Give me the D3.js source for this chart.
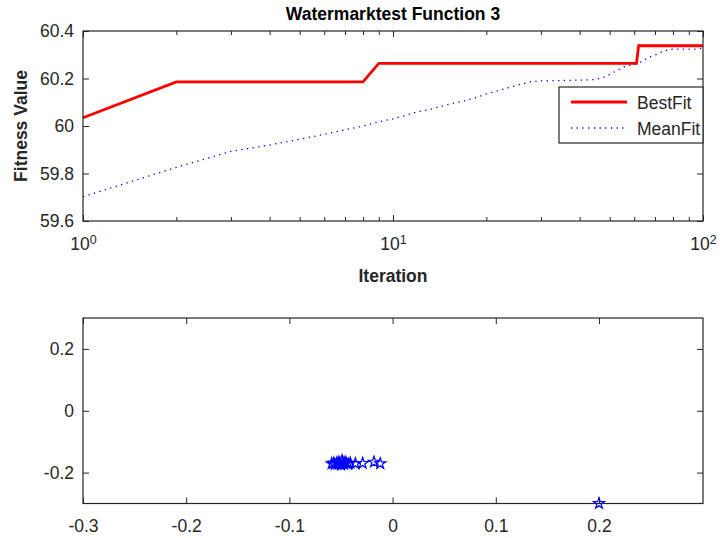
<!DOCTYPE html>
<html>
<head>
<meta charset="utf-8">
<script src="https://cdn.jsdelivr.net/npm/d3@7"></script>
<style>
  body { margin: 0; background: #fff; }
  svg { display: block; font-family: "Liberation Sans", Arial, sans-serif; }
</style>
</head>
<body>
<div id="chart"></div>
<script>
// convergence curves, one value per iteration (1..100)
const bestFit = [
  60.035,
  60.186, 60.186, 60.186, 60.186, 60.186, 60.186, 60.186,
  60.264, 60.264, 60.264, 60.264, 60.264, 60.264, 60.264, 60.264, 60.264, 60.264,
  60.264, 60.264, 60.264, 60.264, 60.264, 60.264, 60.264, 60.264, 60.264, 60.264,
  60.264, 60.264, 60.264, 60.264, 60.264, 60.264, 60.264, 60.264, 60.264, 60.264,
  60.264, 60.264, 60.264, 60.264, 60.264, 60.264, 60.264, 60.264, 60.264, 60.264,
  60.264, 60.264, 60.264, 60.264, 60.264, 60.264, 60.264, 60.264, 60.264, 60.264,
  60.264, 60.264, 60.264,
  60.338, 60.338, 60.338, 60.338, 60.338, 60.338, 60.338, 60.338, 60.338, 60.338,
  60.338, 60.338, 60.338, 60.338, 60.338, 60.338, 60.338, 60.338, 60.338, 60.338,
  60.338, 60.338, 60.338, 60.338, 60.338, 60.338, 60.338, 60.338, 60.338, 60.338,
  60.338, 60.338, 60.338, 60.338, 60.338, 60.338, 60.338, 60.338, 60.338
];
const meanFit = [
  59.702, 59.826, 59.893, 59.920, 59.944, 59.965, 59.984, 60.000, 60.018, 60.030,
  60.045, 60.060, 60.068, 60.080, 60.090, 60.098, 60.106, 60.115, 60.125, 60.135,
  60.142, 60.150, 60.157, 60.164, 60.171, 60.177, 60.182, 60.186, 60.188, 60.190,
  60.190, 60.191, 60.191, 60.191, 60.192, 60.192, 60.192, 60.193, 60.193, 60.193,
  60.193, 60.194, 60.194, 60.195, 60.197, 60.199, 60.202, 60.206, 60.211, 60.217,
  60.223, 60.229, 60.235, 60.241, 60.246, 60.250, 60.253, 60.256, 60.258, 60.260,
  60.262, 60.266, 60.270, 60.275, 60.280, 60.285, 60.289, 60.293, 60.296, 60.299,
  60.302, 60.306, 60.310, 60.313, 60.316, 60.318, 60.320, 60.322, 60.323, 60.324,
  60.324, 60.324, 60.324, 60.324, 60.324, 60.324, 60.324, 60.324, 60.324, 60.324,
  60.324, 60.324, 60.324, 60.324, 60.324, 60.324, 60.324, 60.326, 60.330, 60.335
];
const seriesNames = ['BestFit', 'MeanFit'];

// final population positions
const posX = [-0.059, -0.057, -0.056, -0.054, -0.053, -0.052, -0.051, -0.050, -0.049, -0.048,
              -0.047, -0.046, -0.045, -0.043, -0.041, -0.036, -0.029, -0.018, -0.012, 0.200];
const posY = [-0.171, -0.169, -0.174, -0.168, -0.172, -0.166, -0.170, -0.175, -0.161, -0.168,
              -0.173, -0.166, -0.170, -0.172, -0.169, -0.171, -0.170, -0.166, -0.171, -0.300];

const fitTicks = [59.6, 59.8, 60, 60.2, 60.4];
const iterTicks = [1, 10, 100];
const iterMinor = [2, 3, 4, 5, 6, 7, 8, 9, 20, 30, 40, 50, 60, 70, 80, 90];
const posXTicks = [-0.3, -0.2, -0.1, 0, 0.1, 0.2];
const posYTicks = [-0.2, 0, 0.2];

const W = 720, H = 538;
const axisColor = '#262626';
const svg = d3.select('#chart').append('svg').attr('width', W).attr('height', H);

// ---------- top: convergence ----------
const box1 = { l: 83, r: 703, t: 31, b: 221 };
const xLog = d3.scaleLog().domain([1, 100]).range([box1.l, box1.r]);
const yFit = d3.scaleLinear().domain([59.6, 60.4]).range([box1.b, box1.t]);

function styleAxis(g) {
  g.select('.domain').remove();
  g.selectAll('line').attr('stroke', axisColor).attr('stroke-width', 1);
  g.selectAll('text').attr('fill', axisColor).style('font-size', '17.5px');
}

const gTop = svg.append('g');

gTop.append('g').attr('transform', `translate(0,${box1.b})`)
  .call(d3.axisBottom(xLog).tickValues(iterTicks).tickSizeInner(-6).tickSizeOuter(0).tickPadding(17))
  .call(styleAxis)
  .call(g => g.selectAll('.tick text').text(null).each(function (d) {
    const t = d3.select(this);
    t.append('tspan').text('10');
    t.append('tspan').attr('dy', '-0.55em').style('font-size', '12.5px').text(Math.round(Math.log10(d)));
  }));
gTop.append('g').attr('transform', `translate(0,${box1.b})`)
  .call(d3.axisBottom(xLog).tickValues(iterMinor).tickSizeInner(-4).tickSizeOuter(0).tickFormat(''))
  .call(styleAxis);
gTop.append('g').attr('transform', `translate(0,${box1.t})`)
  .call(d3.axisTop(xLog).tickValues(iterTicks).tickSizeInner(-6).tickSizeOuter(0).tickFormat(''))
  .call(styleAxis);
gTop.append('g').attr('transform', `translate(0,${box1.t})`)
  .call(d3.axisTop(xLog).tickValues(iterMinor).tickSizeInner(-4).tickSizeOuter(0).tickFormat(''))
  .call(styleAxis);
gTop.append('g').attr('transform', `translate(${box1.l},0)`)
  .call(d3.axisLeft(yFit).tickValues(fitTicks).tickSizeInner(-6).tickSizeOuter(0).tickPadding(9).tickFormat(d3.format('')))
  .call(styleAxis);
gTop.append('g').attr('transform', `translate(${box1.r},0)`)
  .call(d3.axisRight(yFit).tickValues(fitTicks).tickSizeInner(-6).tickSizeOuter(0).tickFormat(''))
  .call(styleAxis);

const lineOf = vals => d3.line().x((d, i) => xLog(i + 1)).y(d => yFit(d))(vals);

gTop.append('path').attr('d', lineOf(meanFit))
  .attr('fill', 'none').attr('stroke', '#0000ff').attr('stroke-width', 1.3)
  .attr('stroke-dasharray', '1.3,4.4');
gTop.append('path').attr('d', lineOf(bestFit))
  .attr('fill', 'none').attr('stroke', '#ff0000').attr('stroke-width', 2.8);

gTop.append('rect').attr('x', box1.l).attr('y', box1.t)
  .attr('width', box1.r - box1.l).attr('height', box1.b - box1.t)
  .attr('fill', 'none').attr('stroke', axisColor).attr('stroke-width', 1.2);

gTop.append('text').attr('x', (box1.l + box1.r) / 2).attr('y', 20)
  .attr('text-anchor', 'middle').attr('font-weight', 'bold').style('font-size', '17.5px')
  .attr('fill', '#000').text('Watermarktest Function 3');
gTop.append('text').attr('x', (box1.l + box1.r) / 2).attr('y', 282)
  .attr('text-anchor', 'middle').attr('font-weight', 'bold').style('font-size', '17.5px')
  .attr('fill', axisColor).text('Iteration');
gTop.append('text').attr('transform', `translate(27,${(box1.t + box1.b) / 2}) rotate(-90)`)
  .attr('text-anchor', 'middle').attr('font-weight', 'bold').style('font-size', '17.5px')
  .attr('fill', axisColor).text('Fitness Value');

// legend
const leg = gTop.append('g');
leg.append('rect').attr('x', 559).attr('y', 87).attr('width', 144).attr('height', 56)
  .attr('fill', '#fff').attr('stroke', axisColor).attr('stroke-width', 1.2);
const legStyles = [
  { stroke: '#ff0000', width: 2.8, dash: null },
  { stroke: '#0000ff', width: 1.3, dash: '1.3,4.4' }
];
seriesNames.forEach((name, i) => {
  const cy = 102 + i * 26;
  leg.append('line').attr('x1', 571).attr('x2', 627).attr('y1', cy).attr('y2', cy)
    .attr('stroke', legStyles[i].stroke).attr('stroke-width', legStyles[i].width)
    .attr('stroke-dasharray', legStyles[i].dash);
  leg.append('text').attr('x', 637).attr('y', cy + 6.5).style('font-size', '17.5px')
    .attr('fill', axisColor).text(name);
});

// ---------- bottom: positions ----------
const box2 = { l: 83, r: 703, t: 318, b: 503.5 };
const xPos = d3.scaleLinear().domain([-0.3, 0.3008]).range([box2.l, box2.r]);
const yPos = d3.scaleLinear().domain([-0.3, 0.3]).range([box2.b, box2.t]);
const fmt = d => (d === 0 ? '0' : d3.format('.1f')(d).replace('−', '-'));

const gBot = svg.append('g');
gBot.append('g').attr('transform', `translate(0,${box2.b})`)
  .call(d3.axisBottom(xPos).tickValues(posXTicks).tickSizeInner(-6).tickSizeOuter(0).tickPadding(16).tickFormat(fmt))
  .call(styleAxis);
gBot.append('g').attr('transform', `translate(0,${box2.t})`)
  .call(d3.axisTop(xPos).tickValues(posXTicks).tickSizeInner(-6).tickSizeOuter(0).tickFormat(''))
  .call(styleAxis);
gBot.append('g').attr('transform', `translate(${box2.l},0)`)
  .call(d3.axisLeft(yPos).tickValues(posYTicks).tickSizeInner(-6).tickSizeOuter(0).tickPadding(9).tickFormat(fmt))
  .call(styleAxis);
gBot.append('g').attr('transform', `translate(${box2.r},0)`)
  .call(d3.axisRight(yPos).tickValues(posYTicks).tickSizeInner(-6).tickSizeOuter(0).tickFormat(''))
  .call(styleAxis);

gBot.append('rect').attr('x', box2.l).attr('y', box2.t)
  .attr('width', box2.r - box2.l).attr('height', box2.b - box2.t)
  .attr('fill', 'none').attr('stroke', axisColor).attr('stroke-width', 1.2);

const star = d3.symbol().type(d3.symbolStar).size(38);
gBot.selectAll('path.pt').data(posX).enter().append('path').attr('class', 'pt')
  .attr('transform', (d, i) => `translate(${xPos(d)},${yPos(posY[i])})`)
  .attr('d', star)
  .attr('fill', 'none').attr('stroke', '#0000ff').attr('stroke-width', 1.2);
</script>
</body>
</html>
